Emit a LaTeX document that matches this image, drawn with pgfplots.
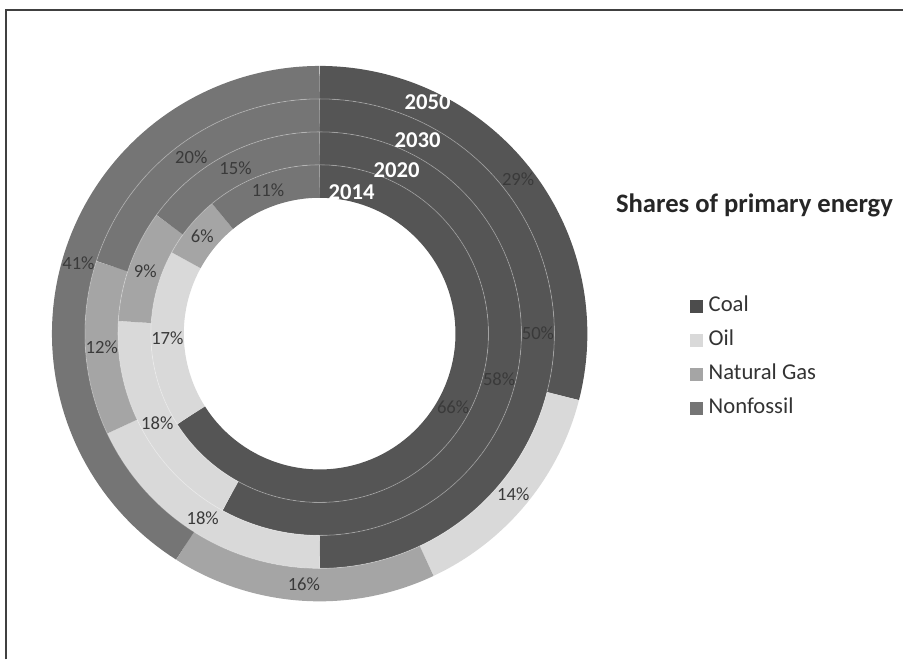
\documentclass[border=0pt]{standalone}
\usepackage{pgfplots}
\pgfplotsset{compat=1.18}
\usepackage{fontspec}
\setmainfont{Carlito}

\definecolor{coalc}{HTML}{555555}
\definecolor{oilc}{HTML}{D9D9D9}
\definecolor{gasc}{HTML}{A5A5A5}
\definecolor{nonfc}{HTML}{757575}
\definecolor{lblc}{HTML}{3A3A3A}

% one ring segment: mid radius, from %, to %, colour, value
\newcommand{\seg}[5]{%
  \addplot[forget plot, draw=#4, line width=24.75pt, line cap=butt,
    domain=(#2)*3.6:(#3)*3.6, samples=90]
    ({320+#1*sin(x)}, {326+#1*cos(x)});
  \node[font=\fontsize{14}{16}\selectfont, text=lblc]
    at (axis cs:{320+#1*sin(1.8*(#2+#3))},{326+#1*cos(1.8*(#2+#3))}) {#5\%};
}
% one year: mid radius, coal, oil, gas, nonfossil
\newcommand{\ring}[5]{%
  \seg{#1}{0}{#2}{coalc}{#2}
  \seg{#1}{#2}{#2+#3}{oilc}{#3}
  \seg{#1}{#2+#3}{#2+#3+#4}{gasc}{#4}
  \seg{#1}{#2+#3+#4}{100}{nonfc}{#5}
}

\begin{document}
\begin{tikzpicture}
\begin{axis}[
    x=0.75pt, y=0.75pt,
    xmin=0, xmax=904, ymin=0, ymax=660,
    hide axis, clip=false,
    legend entries={Coal,Oil,Natural Gas,Nonfossil},
    legend cell align=left,
    legend style={at={(axis cs:686,368)}, anchor=north west, draw=none, fill=none,
        font=\fontsize{17}{20}\selectfont, text=black!80,
        row sep=8pt, nodes={inner sep=1pt, text height=12pt, text depth=3.5pt}},
]
\addlegendimage{legend image code/.code={\fill[coalc!90!black] (0pt,-4.5pt) rectangle (9pt,4.5pt); \path (13pt,0pt);}}
\addlegendimage{legend image code/.code={\fill[oilc] (0pt,-4.5pt) rectangle (9pt,4.5pt); \path (13pt,0pt);}}
\addlegendimage{legend image code/.code={\fill[gasc] (0pt,-4.5pt) rectangle (9pt,4.5pt); \path (13pt,0pt);}}
\addlegendimage{legend image code/.code={\fill[nonfc] (0pt,-4.5pt) rectangle (9pt,4.5pt); \path (13pt,0pt);}}

% page extent and frame (top and left edges)
\addplot[forget plot, draw=none] coordinates {(0,0) (904,660)};
\addplot[forget plot, draw=black!75, line width=1.5pt] coordinates {(6,0) (6,650) (904,650)};

% rings, inner to outer: 2014, 2020, 2030, 2050
\ring{152.5}{66}{17}{6}{11}
\ring{185.5}{58}{18}{9}{15}
\ring{218.5}{50}{18}{12}{20}
\ring{251.5}{29}{14}{16}{41}

% faint separators between rings
\addplot[forget plot, draw=white, opacity=0.3, line width=0.6pt, domain=0:360, samples=181] ({320+169*sin(x)},{326+169*cos(x)});
\addplot[forget plot, draw=white, opacity=0.3, line width=0.6pt, domain=0:360, samples=181] ({320+202*sin(x)},{326+202*cos(x)});
\addplot[forget plot, draw=white, opacity=0.3, line width=0.6pt, domain=0:360, samples=181] ({320+235*sin(x)},{326+235*cos(x)});

% year labels
\node[font=\bfseries\fontsize{17}{20}\selectfont, text=white] at (axis cs:352,468) {2014};
\node[font=\bfseries\fontsize{17}{20}\selectfont, text=white] at (axis cs:397,490) {2020};
\node[font=\bfseries\fontsize{17}{20}\selectfont, text=white] at (axis cs:418,520) {2030};
\node[font=\bfseries\fontsize{17}{20}\selectfont, text=white] at (axis cs:428,558) {2050};

\node[font=\bfseries\fontsize{20}{24}\selectfont, text=black!85, anchor=west] at (axis cs:612,454) {Shares of primary energy};
\end{axis}
\end{tikzpicture}
\end{document}
